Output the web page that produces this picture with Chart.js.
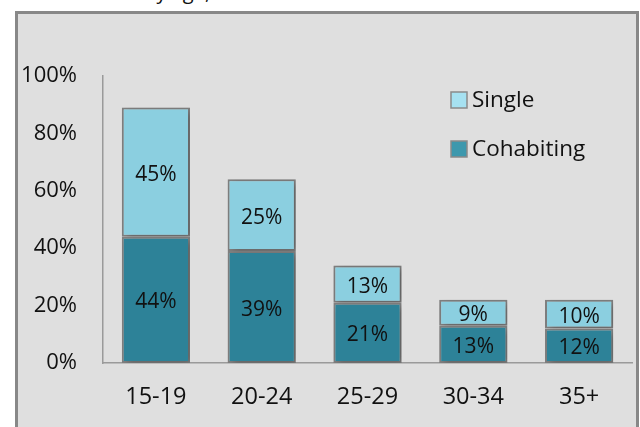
<!DOCTYPE html>
<html>
<head>
<meta charset="utf-8">
<script src="https://cdn.jsdelivr.net/npm/chart.js@4.4.1/dist/chart.umd.min.js"></script>
<style>
  html, body { margin: 0; padding: 0; background: #ffffff; }
  body { width: 640px; height: 427px; position: relative; overflow: hidden; font-family: "Open Sans", sans-serif; }
  #box { position: absolute; left: 15px; top: 11px; width: 618px; height: 430px; background: #dfdfdf; border: 3px solid #888888; box-sizing: content-box; }
  #title { position: absolute; left: 84px; top: -22px; font-size: 20px; color: #111; white-space: nowrap; }
  #wrap { position: absolute; left: 0; top: 0; width: 640px; height: 427px; }
</style>
</head>
<body>
<div id="title">Births by age, 2010</div>
<div id="box"></div>
<div id="wrap"><canvas id="c" width="640" height="427"></canvas></div>
<script>
const categories = ["15-19", "20-24", "25-29", "30-34", "35+"];
const cohabiting = [44, 39, 21, 13, 12];
const single = [45, 25, 13, 9, 10];
const seriesNames = ["Cohabiting", "Single"];
const yTicks = [0, 20, 40, 60, 80, 100];

const shadowPlugin = {
  id: 'shadow',
  beforeDatasetsDraw(chart) {
    const ctx = chart.ctx;
    ctx.save();
    ctx.shadowColor = 'rgba(0,0,0,0.28)';
    ctx.shadowBlur = 7;
    ctx.shadowOffsetX = 3;
    ctx.shadowOffsetY = 2;
  },
  afterDatasetsDraw(chart) {
    chart.ctx.restore();
  }
};

const labelPlugin = {
  id: 'labels',
  afterDatasetsDraw(chart) {
    const ctx = chart.ctx;
    ctx.save();
    ctx.font = '21px "Open Sans", sans-serif';
    ctx.fillStyle = '#111111';
    ctx.textAlign = 'center';
    ctx.textBaseline = 'middle';
    chart.data.datasets.forEach((ds, di) => {
      chart.getDatasetMeta(di).data.forEach((bar, i) => {
        const p = bar.getProps(['x', 'y', 'base'], true);
        ctx.fillText(ds.data[i] + '%', p.x, (p.y + p.base) / 2 + 2.5);
      });
    });
    ctx.restore();
  }
};

const legendSwatch = ["#3d98ad", "#a6e1f1"];
const legendPlugin = {
  id: 'customLegend',
  afterDraw(chart) {
    const ctx = chart.ctx;
    ctx.save();
    ctx.font = '22.5px "Open Sans", sans-serif';
    ctx.textBaseline = 'middle';
    ctx.textAlign = 'left';
    const items = chart.data.datasets.map((d, i) => ({ label: d.label, color: legendSwatch[i] })).reverse();
    const x = 451, ys = [100, 149];
    items.forEach((it, k) => {
      const y = ys[k];
      ctx.fillStyle = it.color;
      ctx.fillRect(x, y - 8, 16, 16);
      ctx.strokeStyle = '#8a8a8a';
      ctx.lineWidth = 1.5;
      ctx.strokeRect(x, y - 8, 16, 16);
      ctx.fillStyle = '#111111';
      ctx.fillText(it.label, x + 21, y + 1);
    });
    ctx.restore();
  }
};

new Chart(document.getElementById('c'), {
  type: 'bar',
  data: {
    labels: categories,
    datasets: [
      { label: seriesNames[0], data: cohabiting, backgroundColor: '#2d8298', borderColor: '#808080', borderWidth: 2, borderSkipped: false },
      { label: seriesNames[1], data: single, backgroundColor: '#8bcfe0', borderColor: '#808080', borderWidth: 2, borderSkipped: false }
    ]
  },
  options: {
    responsive: false,
    animation: false,
    devicePixelRatio: 1,
    layout: { padding: { top: 76, right: 8, left: 0, bottom: 0 } },
    datasets: { bar: { categoryPercentage: 1, barPercentage: 0.645 } },
    plugins: { legend: { display: false }, tooltip: { enabled: false } },
    scales: {
      x: {
        stacked: true,
        grid: { display: false, drawTicks: false },
        border: { display: true, color: '#9a9a9a', width: 1.5 },
        ticks: { color: '#111111', font: { family: 'Open Sans', size: 23.5 }, padding: 20 },
        afterFit(s) { s.height = 64; }
      },
      y: {
        stacked: true,
        min: 0, max: 100,
        afterBuildTicks(s) { s.ticks = yTicks.map(v => ({ value: v })); },
        grid: { display: false, drawTicks: false },
        border: { display: true, color: '#9a9a9a', width: 1.5 },
        ticks: { color: '#111111', font: { family: 'Open Sans', size: 22 }, padding: 26, callback: v => v + '%' },
        afterFit(s) { s.width = 103; }
      }
    }
  },
  plugins: [shadowPlugin, labelPlugin, legendPlugin]
});
</script>
</body>
</html>
